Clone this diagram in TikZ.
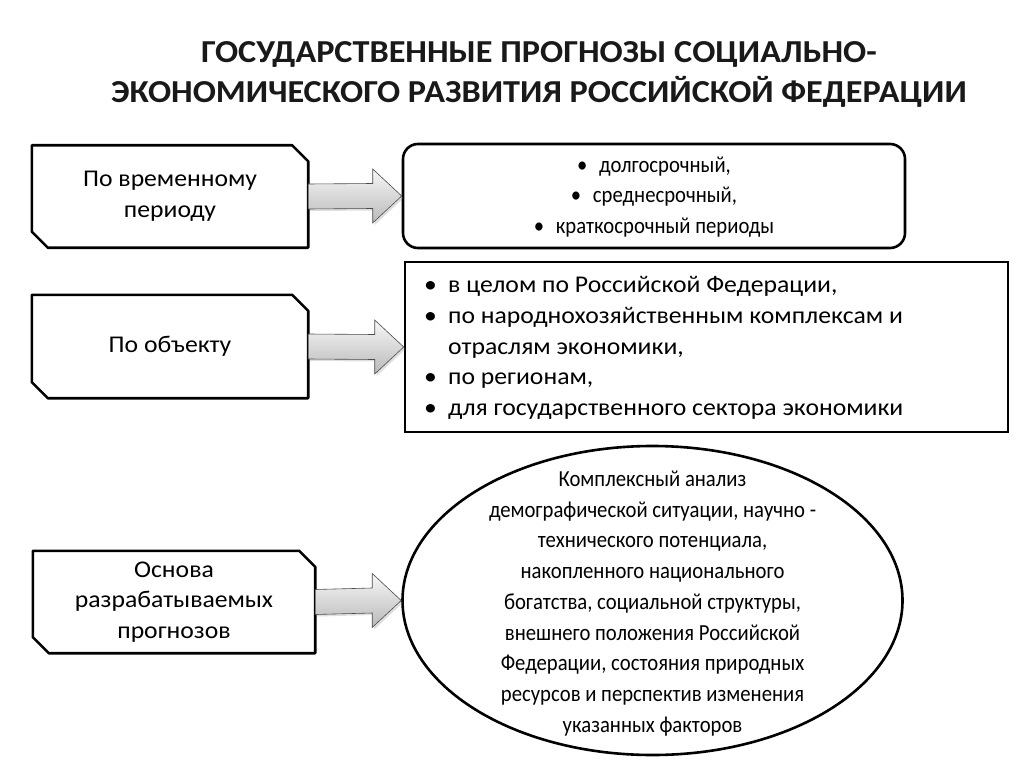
\documentclass[tikz,border=0pt]{standalone}
\usepackage{fontspec}
\setmainfont{Carlito}
\newfontfamily\widefont[FakeStretch=1.07]{Carlito}
\newfontfamily\narrowfont[FakeStretch=0.9]{Carlito}
\usetikzlibrary{shapes.geometric,calc,shadows}
\tikzset{
  leftbox/.style={rectangle, align=center, inner sep=0pt,
    font=\widefont\fontsize{24}{30.5}\selectfont},
  outline/.style={draw=black, line width=2.6pt, line join=round, fill=white},
  rbox/.style={draw=black, line width=2.6pt, fill=white, inner sep=0pt},
  narrowtext/.style={font=\narrowfont\fontsize{23}{30.7}\selectfont, align=center},
  widetext/.style={font=\widefont\fontsize{24}{30.7}\selectfont, align=left},
  blockarrow/.style={draw=gray!60!black, line width=0.6pt, top color=gray!6, bottom color=gray!55,
    drop shadow={shadow xshift=2pt, shadow yshift=-2pt, opacity=0.25}},
  titletext/.style={font=\widefont\fontsize{32}{40}\bfseries\selectfont, align=center, text=black!90}
}
\newcommand\bigarrow[2]{%
  \path[blockarrow] ($(#1.east)+(0,-12.5)$) -- ($(#2.west)+(-29,-12.5)$) -- ($(#2.west)+(-29,-27)$)
    -- (#2.west) -- ($(#2.west)+(-29,27)$) -- ($(#2.west)+(-29,12.5)$) -- ($(#1.east)+(0,12.5)$) -- cycle;}
\newcommand\snipbox[1]{%
  \path[outline] (#1.north west) -- ($(#1.north east)+(-16,0)$) -- ($(#1.north east)+(0,16)$)
    -- (#1.south east) -- ($(#1.south west)+(16,0)$) -- ($(#1.south west)+(0,-16)$) -- cycle;}
\newcommand\bul{\makebox[24pt][l]{•}}
\newcommand\cbul{\makebox[22pt][l]{•}}
\begin{document}
\begin{tikzpicture}[x=1pt,y=-1pt]
\useasboundingbox[fill=white] (0,0) rectangle (1024,767);

\node[titletext] (title) at (539,74) {ГОСУДАРСТВЕННЫЕ ПРОГНОЗЫ СОЦИАЛЬНО-\\ЭКОНОМИЧЕСКОГО РАЗВИТИЯ РОССИЙСКОЙ ФЕДЕРАЦИИ};

% left boxes (outline drawn behind the text)
\node[leftbox, minimum width=276pt, minimum height=102pt] (b1) at (170,196.5) {\phantom{X}};
\snipbox{b1}
\node[leftbox] at (b1.center) {По временному\\периоду};
\node[leftbox, minimum width=276pt, minimum height=103pt] (b2) at (170,346.5) {\phantom{X}};
\snipbox{b2}
\node[leftbox] at (b2.center) {По объекту};
\node[leftbox, minimum width=282pt, minimum height=102pt] (b3) at (174,602) {\phantom{X}};
\snipbox{b3}
\node[leftbox] at (b3.center) {Основа\\разрабатываемых\\прогнозов};

% right shapes
\node[rbox, rounded corners=15pt, minimum width=502pt, minimum height=104pt] (r1) at (654,196) {};
\node[narrowtext] at ($(r1.center)+(0,1)$) {\cbul долгосрочный,\\\cbul среднесрочный,\\\cbul краткосрочный периоды};

\node[rbox, minimum width=603pt, minimum height=170pt] (r2) at (706.5,347) {};
\node[widetext, anchor=west] at ($(r2.west)+(17,1)$)
  {\bul в целом по Российской Федерации,\\
   \bul по народнохозяйственным комплексам и\\
   \hspace*{24pt}отраслям экономики,\\
   \bul по регионам,\\
   \bul для государственного сектора экономики};

\node[ellipse, draw=black, line width=2.6pt, fill=white, minimum width=500pt, minimum height=309pt, inner sep=0pt] (r3) at (652.5,600.5) {};
\node[narrowtext] at ($(r3.center)+(0,3)$) {Комплексный анализ\\демографической ситуации, научно -\\технического потенциала,\\накопленного национального\\богатства, социальной структуры,\\внешнего положения Российской\\Федерации, состояния природных\\ресурсов и перспектив изменения\\указанных факторов};

% block arrows
\bigarrow{b1}{r1}
\bigarrow{b2}{r2}
\bigarrow{b3}{r3}
\end{tikzpicture}
\end{document}
